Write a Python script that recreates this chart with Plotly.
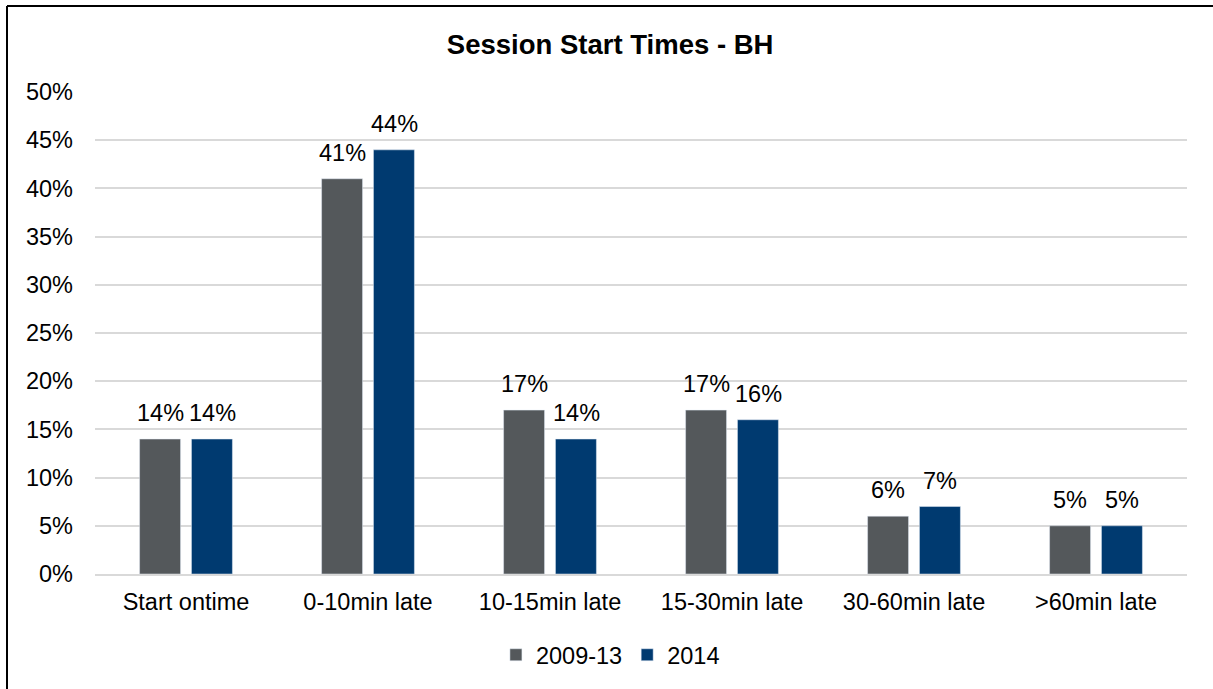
import plotly.graph_objects as go

categories = ["Start ontime", "0-10min late", "10-15min late", "15-30min late", "30-60min late", ">60min late"]
values_2009_13 = [14, 41, 17, 17, 6, 5]
values_2014 = [14, 44, 14, 16, 7, 5]
tick_values = [0, 5, 10, 15, 20, 25, 30, 35, 40, 45, 50]
tick_labels = [f"{v}%" for v in tick_values]

FONT = "Liberation Sans, Arial, sans-serif"
SIZE = 23.5

fig = go.Figure()
fig.add_trace(go.Bar(name="2009-13", x=categories, y=values_2009_13,
                     marker=dict(color="#54585B")))
fig.add_trace(go.Bar(name="2014", x=categories, y=values_2014,
                     marker=dict(color="#003A70")))

# Value labels above each bar (bars sit ~26 px either side of the category centre)
for series, dx in ((values_2009_13, -26), (values_2014, 26)):
    for cat, v in zip(categories, series):
        fig.add_annotation(x=cat, y=v, text=f"{v}%", showarrow=False,
                           xshift=dx, yshift=11, yanchor="bottom", xanchor="center",
                           font=dict(size=SIZE, color="#000000", family=FONT))

fig.update_layout(
    width=1213, height=689,
    margin=dict(l=95, r=26, t=92, b=115),
    paper_bgcolor="white", plot_bgcolor="white",
    font=dict(family=FONT, size=SIZE, color="#000000"),
    title=dict(text="<b>Session Start Times - BH</b>", x=0.503, xref="container", xanchor="center",
               y=1 - 44 / 689, yref="container", yanchor="middle",
               font=dict(size=27.5, color="#000000", family=FONT)),
    barmode="group", bargap=0.43, bargroupgap=0.21,
    showlegend=True,
    legend=dict(orientation="h", x=0.472, xanchor="center", y=-0.168, yanchor="middle",
                font=dict(size=SIZE, family=FONT), itemwidth=30, traceorder="normal"),
)
fig.update_yaxes(range=[0, 50], tickvals=tick_values, ticktext=tick_labels,
                 showgrid=True, gridcolor="#D9D9D9", gridwidth=1.5,
                 zeroline=False, showline=False, ticks="", ticklabelstandoff=21,
                 tickfont=dict(size=SIZE))
fig.update_xaxes(showline=True, linecolor="#D9D9D9", linewidth=1.5, ticks="",
                 tickfont=dict(size=SIZE), ticklabelstandoff=6)

# Frame around the chart: left and top edges visible
fig.add_shape(type="line", xref="paper", yref="paper",
              x0=(7 - 95) / 1092, x1=(7 - 95) / 1092, y0=(574 - 6) / 482, y1=-0.4,
              line=dict(color="#000000", width=2))
fig.add_shape(type="line", xref="paper", yref="paper",
              x0=(7 - 95) / 1092, x1=1.1, y0=(574 - 6) / 482, y1=(574 - 6) / 482,
              line=dict(color="#000000", width=2))

fig.write_html("out.html")
